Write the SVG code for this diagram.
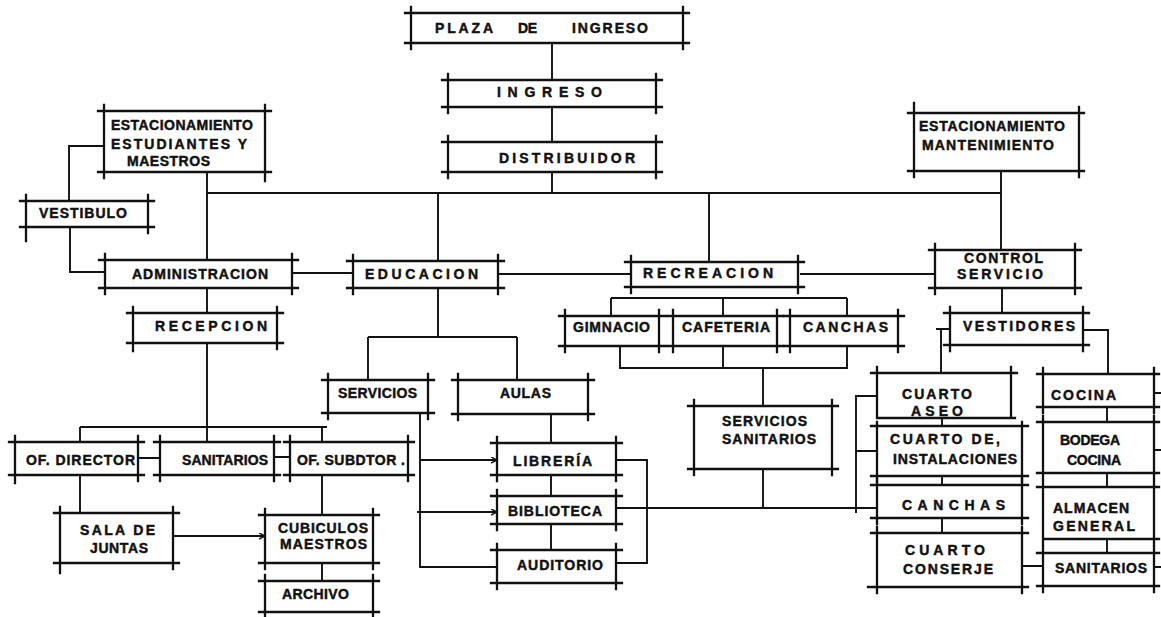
<svg xmlns="http://www.w3.org/2000/svg" width="1161" height="617" viewBox="0 0 1161 617">
<style>
.bx{fill:none;stroke:#111;stroke-width:2.3;stroke-linecap:square}
.cn{fill:none;stroke:#111;stroke-width:1.9}
.t{font-family:"Liberation Sans",Arial,sans-serif;font-weight:bold;font-size:14px;fill:#111;stroke:#111;stroke-width:0.45}
</style>
<defs>
<marker id="ar" markerWidth="8" markerHeight="8" refX="6" refY="3" orient="auto" markerUnits="userSpaceOnUse">
<path d="M0,0 L6,3 L0,6" fill="none" stroke="#111" stroke-width="1.4"/>
</marker>
</defs>
<rect width="1161" height="617" fill="#fff"/>
<g id="connectors">
<path class="cn" d="M552 43V80M552 107V142M552 172V193M207 193H1001M207 172V260M438 193V261M709 193V262M1001 172V250"/>
<path class="cn" d="M104 146H69V201M70 227V272H105M292 273H353M498 274H631M800 274H935"/>
<path class="cn" d="M207 288V313M207 343V442M80 427H327M80 427V442M322 427V442M138 458H160M274 457H290M80 475V513M322 475V515M322 563V581"/>
<path class="cn" d="M173 536H265" marker-end="url(#ar)"/>
<path class="cn" d="M438 288V337M368 337H517M368 337V380M517 337V380M551 414V443M551 475V496M551 524V550M420 413V567H497"/>
<path class="cn" d="M420 460H497" marker-end="url(#ar)"/>
<path class="cn" d="M417 512H497" marker-end="url(#ar)"/>
<path class="cn" d="M616 460H647V563H616M616 508H877"/>
<path class="cn" d="M611 298H847M611 298V316M723 298V316M847 298V316M620 346V368H847V346M723 346V368M763 368V406M763 469V508"/>
<path class="cn" d="M1002 288V313M950 329H936M941 329V373M1083 330H1108V374M877 396H856V513M856 451H877M942 418V427M942 476V485M942 518V533M1022 566H1043M1107 407V422M1107 473V487M1107 539V553M1154 393H1161M1154 450H1161M1154 567H1161"/>
</g>
<g id="plaza"><path class="bx" d="M405 13H689M405 43H689M411 7V49M683 7V49"/>
<text class="t" y="33"><tspan x="435" textLength="58">PLAZA</tspan><tspan x="518" textLength="19">DE</tspan><tspan x="572" textLength="76">INGRESO</tspan></text></g>
<g id="ingreso"><path class="bx" d="M442 80H662M442 107H662M448 74V113M656 74V113"/>
<text class="t" x="497" y="97" textLength="105">INGRESO</text></g>
<g id="distribuidor"><path class="bx" d="M442 142H662M442 172H662M448 136V178M656 136V178"/>
<text class="t" x="499" y="163" textLength="136">DISTRIBUIDOR</text></g>
<g id="estac-estudiantes"><path class="bx" d="M98 111H271M98 172H271M104 105V178M265 105V181"/>
<text class="t" x="111" y="130" textLength="142">ESTACIONAMIENTO</text>
<text class="t" x="111" y="149" textLength="136">ESTUDIANTES Y</text>
<text class="t" x="127" y="166" textLength="83">MAESTROS</text></g>
<g id="estac-mantenimiento"><path class="bx" d="M908 113H1084M908 171H1084M914 103V177M1079 107V177"/>
<text class="t" x="919" y="131" textLength="146">ESTACIONAMIENTO</text>
<text class="t" x="922" y="150" textLength="132">MANTENIMIENTO</text></g>
<g id="vestibulo"><path class="bx" d="M20 201H154M20 227H154M26 195V241M148 195V233"/>
<text class="t" x="39" y="218" textLength="88">VESTIBULO</text></g>
<g id="administracion"><path class="bx" d="M99 260H298M99 288H298M105 254V294M292 254V294"/>
<text class="t" x="132" y="279" textLength="136">ADMINISTRACION</text></g>
<g id="educacion"><path class="bx" d="M347 261H504M347 288H504M353 255V294M498 255V294"/>
<text class="t" x="365" y="279" textLength="113">EDUCACION</text></g>
<g id="recreacion"><path class="bx" d="M625 262H804M625 287H804M631 256V293M798 256V293"/>
<text class="t" x="643" y="278" textLength="130">RECREACION</text></g>
<g id="control-servicio"><path class="bx" d="M929 250H1081M929 288H1081M935 244V294M1075 244V294"/>
<text class="t" x="964" y="263" textLength="79">CONTROL</text>
<text class="t" x="957" y="279" textLength="86">SERVICIO</text></g>
<g id="recepcion"><path class="bx" d="M127 313H283M127 343H283M133 307V351M277 307V349"/>
<text class="t" x="155" y="331" textLength="112">RECEPCION</text></g>
<g id="servicios"><path class="bx" d="M322 380H434M322 413H434M328 374V419M428 374V419"/>
<text class="t" x="338" y="398" textLength="79">SERVICIOS</text></g>
<g id="aulas"><path class="bx" d="M452 380H594M452 414H594M458 374V420M588 374V420"/>
<text class="t" x="500" y="398" textLength="51">AULAS</text></g>
<g id="gimnacio"><path class="bx" d="M559 316H665M559 346H665M565 310V352M659 310V352"/>
<text class="t" x="573" y="332" textLength="77">GIMNACIO</text></g>
<g id="cafeteria"><path class="bx" d="M667 316H783M667 346H783M673 310V352M777 310V352"/>
<text class="t" x="682" y="332" textLength="88">CAFETERIA</text></g>
<g id="canchas-rec"><path class="bx" d="M784 316H904M784 346H904M790 310V352M898 310V352"/>
<text class="t" x="803" y="332" textLength="85">CANCHAS</text></g>
<g id="servicios-sanitarios"><path class="bx" d="M688 406H838M688 469H838M694 400V475M832 400V475"/>
<text class="t" x="722" y="426" textLength="85">SERVICIOS</text>
<text class="t" x="722" y="444" textLength="94">SANITARIOS</text></g>
<g id="vestidores"><path class="bx" d="M944 313H1089M944 345H1089M950 307V351M1083 307V351"/>
<text class="t" x="963" y="331" textLength="112">VESTIDORES</text></g>
<g id="of-director"><path class="bx" d="M9 442H144M9 475H144M15 436V483M138 436V481"/>
<text class="t" x="26" y="465" textLength="109">OF. DIRECTOR</text></g>
<g id="sanitarios-adm"><path class="bx" d="M154 442H280M154 475H280M160 436V481M274 436V481"/>
<text class="t" x="182" y="465" textLength="86">SANITARIOS</text></g>
<g id="of-subdtor"><path class="bx" d="M284 442H414M284 475H414M290 436V481M408 436V481"/>
<text class="t" x="297" y="465" textLength="108">OF. SUBDTOR .</text></g>
<g id="sala-juntas"><path class="bx" d="M54 513H179M54 563H179M60 507V573M173 507V569"/>
<text class="t" x="80" y="535" textLength="75">SALA DE</text>
<text class="t" x="90" y="553" textLength="58">JUNTAS</text></g>
<g id="cubiculos"><path class="bx" d="M259 515H379M259 563H379M265 509V569M373 509V569"/>
<text class="t" x="278" y="533" textLength="90">CUBICULOS</text>
<text class="t" x="280" y="549" textLength="87">MAESTROS</text></g>
<g id="archivo"><path class="bx" d="M259 581H379M259 612H379M265 575V617M373 575V617"/>
<text class="t" x="282" y="599" textLength="67">ARCHIVO</text></g>
<g id="libreria"><path class="bx" d="M491 443H622M491 475H622M497 437V481M616 437V481"/>
<text class="t" x="513" y="466" textLength="79">LIBRERÍA</text></g>
<g id="biblioteca"><path class="bx" d="M491 496H622M491 524H622M497 490V530M616 490V530"/>
<text class="t" x="508" y="516" textLength="94">BIBLIOTECA</text></g>
<g id="auditorio"><path class="bx" d="M491 550H622M491 583H622M497 544V589M616 544V589"/>
<text class="t" x="517" y="570" textLength="86">AUDITORIO</text></g>
<g id="cuarto-aseo"><path class="bx" d="M871 373H1017M877 418H1015M877 367V418M1011 367V418"/>
<text class="t" x="902" y="399" textLength="70">CUARTO</text>
<text class="t" x="911" y="416" textLength="52">ASEO</text></g>
<g id="cuarto-instalaciones"><path class="bx" d="M871 426H1028M871 476H1028M877 422V482M1022 422V482"/>
<text class="t" x="890" y="444" textLength="110">CUARTO DE,</text>
<text class="t" x="893" y="464" textLength="124">INSTALACIONES</text></g>
<g id="canchas-serv"><path class="bx" d="M871 485H1028M871 518H1028M877 479V524M1022 479V524"/>
<text class="t" x="902" y="510" textLength="103">CANCHAS</text></g>
<g id="cuarto-conserje"><path class="bx" d="M871 533H1028M868 587H1028M877 527V593M1022 527V593"/>
<text class="t" x="905" y="555" textLength="80">CUARTO</text>
<text class="t" x="903" y="574" textLength="90">CONSERJE</text></g>
<g id="cocina"><path class="bx" d="M1037 374H1159M1037 407H1159M1043 368V413M1154 368V413"/>
<text class="t" x="1051" y="400" textLength="65">COCINA</text></g>
<g id="bodega-cocina"><path class="bx" d="M1037 422H1159M1037 473H1159M1043 416V479M1154 416V479"/>
<text class="t" x="1060" y="445" textLength="60">BODEGA</text>
<text class="t" x="1067" y="465" textLength="54">COCINA</text></g>
<g id="almacen-general"><path class="bx" d="M1037 487H1159M1043 539H1159M1043 481V545M1154 481V545"/>
<text class="t" x="1053" y="513" textLength="76">ALMACEN</text>
<text class="t" x="1053" y="531" textLength="82">GENERAL</text></g>
<g id="sanitarios-serv"><path class="bx" d="M1037 553H1159M1037 586H1159M1043 547V592M1154 547V592"/>
<text class="t" x="1055" y="573" textLength="92">SANITARIOS</text></g>
</svg>
